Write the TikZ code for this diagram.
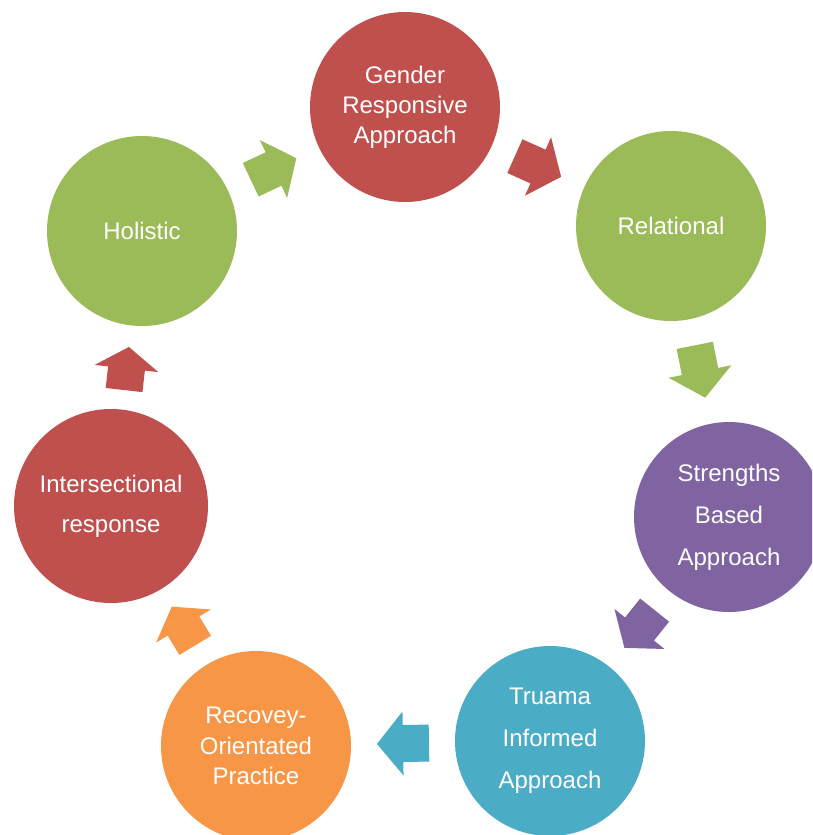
\documentclass[tikz,border=0pt]{standalone}
\usepackage{fontspec}
\setmainfont{Liberation Sans}
\usetikzlibrary{calc}
\definecolor{cred}{HTML}{C0504D}
\definecolor{cgreen}{HTML}{9BBB59}
\definecolor{cpurple}{HTML}{8064A2}
\definecolor{caqua}{HTML}{4BACC6}
\definecolor{corange}{HTML}{F79646}
\tikzset{
  circ/.style={circle, minimum size=190pt, inner sep=0pt, fill=#1, text=white,
    align=center, font=\fontsize{24}{30}\selectfont},
  blockarrow/.pic={\path[pic actions] ({-#1/2},-18.5) -- (0,-18.5) -- (0,-32) -- ({#1/2},0)
    -- (0,32) -- (0,18.5) -- ({-#1/2},18.5) -- cycle;}
}
\newcommand{\flowarrow}[3]{\path let \p1=($(#2)-(#1)$), \n1={atan2(\y1,\x1)},
  \n2={(veclen(\x1,\y1)-190)/2} in ($(#1)!0.5!(#2)$) pic[rotate=\n1, fill=#3] {blockarrow=\n2};}
\begin{document}
\begin{tikzpicture}[x=1pt,y=1pt]
\clip (0,0) rectangle (812,-835);
\node[circ=cred] (gen) at (405,-107) {Gender\\Responsive\\Approach};
\node[circ=cgreen] (rel) at (671,-226) {Relational};
\node[circ=cpurple, font=\fontsize{24}{42}\selectfont] (str) at (729,-517) {Strengths\\Based\\Approach};
\node[circ=caqua, font=\fontsize{24}{42}\selectfont] (tru) at (550,-741) {Truama\\Informed\\Approach};
\node[circ=corange, font=\fontsize{24}{30.5}\selectfont] (rec) at (256,-746) {Recovey-\\Orientated\\Practice};
\node[circ=cred, minimum size=194pt, font=\fontsize{24}{40}\selectfont] (int) at (111,-506) {Intersectional\\response};
\node[circ=cgreen] (hol) at (142,-231) {Holistic};
\flowarrow{hol}{gen}{cgreen}
\flowarrow{gen}{rel}{cred}
\flowarrow{rel}{str}{cgreen}
\flowarrow{str}{tru}{cpurple}
\flowarrow{tru}{rec}{caqua}
\flowarrow{rec}{int}{corange}
\flowarrow{int}{hol}{cred}
\end{tikzpicture}
\end{document}
